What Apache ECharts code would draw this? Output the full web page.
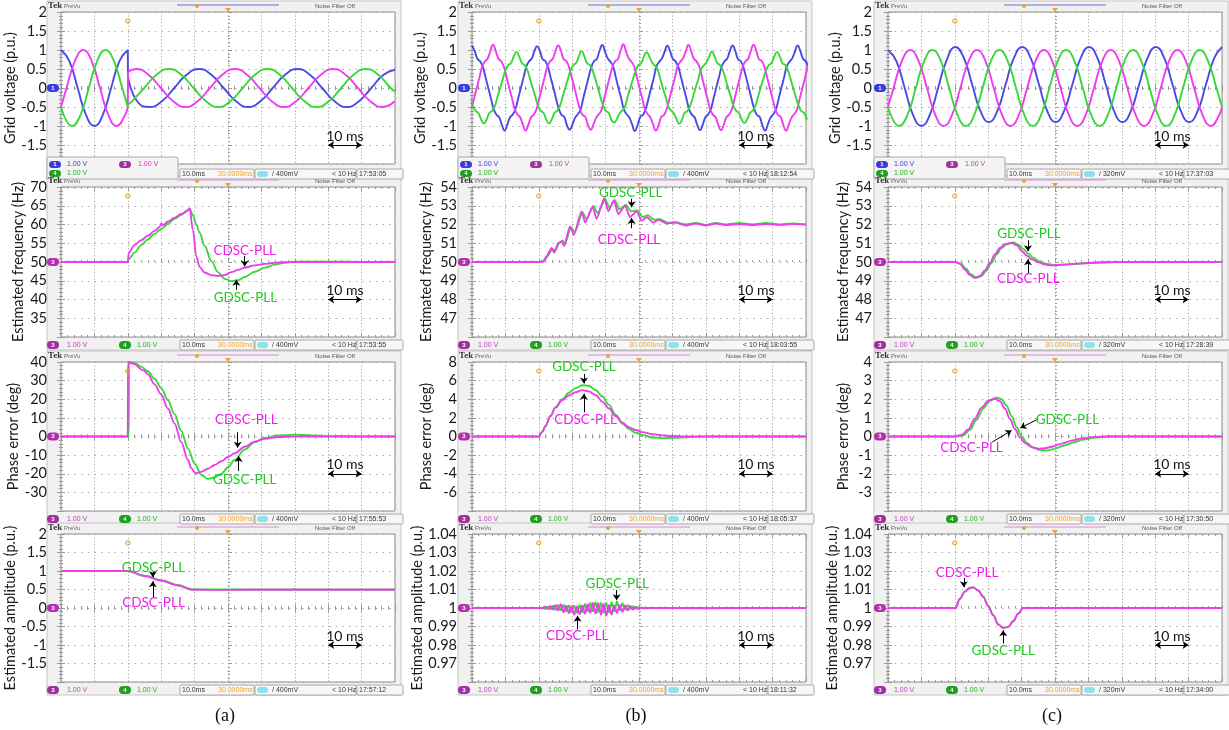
<!DOCTYPE html>
<html><head><meta charset="utf-8">
<script src="https://cdn.jsdelivr.net/npm/echarts@6/dist/echarts.min.js"></script>
<style>html,body{margin:0;padding:0;background:#fff}#c{width:1229px;height:730px}</style>
</head><body><div id="c"></div>
<script>
// ---------------- DATA ----------------
const titles = ['Grid voltage (p.u.)','Estimated frequency (Hz)','Phase error (deg)','Estimated amplitude (p.u.)'];
const captions = ['(a)','(b)','(c)'];
const rangeA = [[-2,2,0.5],[30,70,5],[-40,40,10],[-2,2,0.5]];
const rangeB = [[-2,2,0.5],[46,54,1],[-8,8,2],[0.96,1.04,0.01]];
const rangeC = [[-2,2,0.5],[46,54,1],[-4,4,1],[0.96,1.04,0.01]];
const stamps = [['17:53:05','17:53:55','17:55:53','17:57:12'],['18:12:54','18:03:55','18:05:37','18:11:32'],['17:37:03','17:28:39','17:30:50','17:34:00']];
const trigLevel = ['400mV','400mV','320mV'];

// (a) grid voltage
const aBlueT = [0,2.5,5,7.5,10,12.5,15,17.5,20,20.05,22.8,26.5,30.2,33.9,37.6,41.3,45,48.7,52.4,56,59.7,63.4,67.1,70.8,74.5,78.2,81.9,85.5,89.2,92.9,96.6,100];
const aBlueV = [1,0.71,0,-0.71,-1,-0.71,0,0.71,1,0.3,-0.35,-0.5,-0.35,0,0.35,0.5,0.35,0,-0.35,-0.5,-0.35,0,0.35,0.5,0.35,0,-0.35,-0.5,-0.35,0,0.35,0.48];
const aPinkT = [0,1.67,4.17,6.67,9.17,11.67,14.17,16.67,19.17,20,20.05,22.5,26.2,29.9,33.6,37.25,40.9,44.6,48.3,52,55.7,59.4,63.1,66.75,70.4,74.1,77.8,81.5,85.2,88.9,92.6,96.25,99.9];
const aPinkV = [-0.5,0,0.71,1,0.71,0,-0.71,-1,-0.71,-0.5,0.43,0.5,0.35,0,-0.35,-0.5,-0.35,0,0.35,0.5,0.35,0,-0.35,-0.5,-0.35,0,0.35,0.5,0.35,0,-0.35,-0.5,-0.35];
const aGreenT = [0,3.33,5.83,8.33,10.83,13.33,15.83,18.33,20,20.05,21.25,24.9,28.6,32.3,36,39.7,43.4,47.05,50.7,54.4,58.1,61.8,65.5,69.2,72.9,76.55,80.2,83.9,87.6,91.3,95,98.7,100];
const aGreenV = [-0.5,-1,-0.71,0,0.71,1,0.71,0,-0.5,-0.43,-0.35,0,0.35,0.5,0.35,0,-0.35,-0.5,-0.35,0,0.35,0.5,0.35,0,-0.35,-0.5,-0.35,0,0.35,0.5,0.35,0,-0.09];
// (a) frequency
const aFreqT = [0,20,20.3,22,24,26,28,29.5,30,30.5,32,34,36,38,38.5,39.5,40.5,41.5,43,45,47,49,51,53,55,58,61,64,67,70,80,90,100];
const aFreqCdsc = [50,50,52.5,54.5,55.8,57,58.3,59.3,60.3,59.8,60.8,61.8,62.8,63.8,64.3,58.5,51.5,48.7,47.2,46.5,46.3,46.5,47.3,47.9,48.5,49.1,49.5,49.8,49.95,50,50,50,50];
const aFreqGdsc = [50,50,50.8,52.5,54.5,56,57.5,58.5,58.8,59.1,60.2,61.5,62.6,63.7,64.2,62.5,60,57.8,54.3,50.3,47.3,45.5,44.9,45.1,46,47.4,48.5,49.3,49.8,50.1,50.1,50,50];
// (a) phase error
const aPhT_C = [0,20,20.05,21.7,24.7,26,28,30,32,34,36,38,39,40.2,42,44,46,48,50,52,55,58,61,65,70,80,90,100];
const aPhCdsc = [0,0,40,39,35.5,33.5,28,22.5,15,7,-3,-12.5,-17,-19.7,-19,-17.3,-15.3,-13.3,-11,-9,-5.5,-2.8,-1.2,-0.3,0,0,0,0];
const aPhT_G = [0,20.3,20.35,22,24,26,28,30,32,34,36,38,40,42,44,46,48,50,52,55,58,61,65,70,75,80,90,100];
const aPhGdsc = [0,0,40,39.5,37.5,35,31,26,19.5,12,3,-6.5,-14.5,-20.5,-22.8,-22,-20,-16.5,-12.5,-7,-3,-0.8,0.5,1.0,0.6,0.2,0,0];
// (a) amplitude
const aAmpT = [0,20,25,30,35,39.2,45,55,65,69.5,69.8,70.1,75,85,100];
const aAmpGdsc = [1,1,0.875,0.75,0.62,0.505,0.5,0.5,0.5,0.5,0.5,0.5,0.5,0.5,0.5];
const aAmpCdsc = [1,1,0.865,0.735,0.605,0.495,0.49,0.492,0.492,0.492,0.515,0.492,0.492,0.492,0.492];

// (b) grid voltage (evenly sampled, step in ms, first sample time per phase)
const bStep = 0.8125;
const bBlueT0 = 0, bPinkT0 = -0.2, bGreenT0 = -0.51;
const bBlueV = [1.12,0.97,0.77,0.70,0.56,0.28,0.00,-0.28,-0.56,-0.70,-0.77,-0.97,-1.12,-0.97,-0.77,-0.70,-0.56,-0.28,0.00,0.28,0.56,0.70,0.77,0.97,
1.10,0.98,0.76,0.71,0.55,0.27,0.01,-0.29,-0.55,-0.71,-0.76,-0.98,-1.10,-0.96,-0.78,-0.69,-0.57,-0.27,0.01,0.29,0.55,0.71,0.76,0.98,
1.13,0.96,0.78,0.69,0.57,0.28,-0.01,-0.28,-0.57,-0.69,-0.78,-0.96,-1.13,-0.98,-0.76,-0.71,-0.55,-0.29,0.00,0.27,0.57,0.69,0.78,0.96,
1.11,0.97,0.77,0.70,0.56,0.29,0.00,-0.27,-0.56,-0.70,-0.77,-0.97,-1.11,-0.97,-0.77,-0.70,-0.56,-0.28,0.01,0.28,0.56,0.70,0.77,0.97,
1.12,0.98,0.76,0.71,0.55,0.28,0.00,-0.28,-0.55,-0.71,-0.76,-0.98,-1.12,-0.96,-0.78,-0.69,-0.57,-0.28,0.00,0.28,0.57,0.69,0.78,0.96,
1.12,0.97,0.77,0.70,0.56];
const bPinkV = [-0.56,-0.28,0.00,0.28,0.56,0.70,0.77,0.97,
1.14,0.97,0.77,0.70,0.56,0.28,0.00,-0.28,-0.56,-0.70,-0.77,-0.97,-1.12,-0.97,-0.77,-0.70,-0.56,-0.28,0.00,0.28,0.56,0.70,0.77,0.97,
1.12,0.98,0.76,0.71,0.55,0.27,0.01,-0.29,-0.55,-0.71,-0.76,-0.98,-1.10,-0.96,-0.78,-0.69,-0.57,-0.27,0.01,0.29,0.55,0.71,0.76,0.98,
1.15,0.96,0.78,0.69,0.57,0.28,-0.01,-0.28,-0.57,-0.69,-0.78,-0.96,-1.12,-0.98,-0.76,-0.71,-0.55,-0.29,0.00,0.27,0.57,0.69,0.78,0.96,
1.13,0.97,0.77,0.70,0.56,0.29,0.00,-0.27,-0.56,-0.70,-0.77,-0.97,-1.11,-0.97,-0.77,-0.70,-0.56,-0.28,0.01,0.28,0.56,0.70,0.77,0.97,
1.14,0.98,0.76,0.71,0.55,0.28,0.00,-0.28,-0.55,-0.71,-0.76,-0.98,-1.12,-0.96,-0.78,-0.69,-0.57,-0.28,0.00,0.28,0.57];
const bGreenV = [-0.24,-0.48,-0.60,-0.66,-0.83,-0.93,-0.83,-0.66,-0.60,-0.48,-0.24,0.00,0.24,0.48,0.60,0.66,0.83,
0.95,0.83,0.66,0.60,0.48,0.24,0.00,-0.24,-0.48,-0.60,-0.66,-0.83,-0.93,-0.83,-0.66,-0.60,-0.48,-0.24,0.00,0.24,0.48,0.60,0.66,0.83,
0.97,0.84,0.65,0.61,0.47,0.25,0.01,-0.25,-0.47,-0.61,-0.65,-0.84,-0.91,-0.82,-0.67,-0.59,-0.49,-0.23,0.01,0.25,0.47,0.61,0.65,0.84,
0.94,0.82,0.67,0.59,0.49,0.24,-0.01,-0.24,-0.49,-0.59,-0.67,-0.82,-0.94,-0.84,-0.65,-0.61,-0.47,-0.25,0.00,0.23,0.49,0.59,0.67,0.82,
0.96,0.83,0.66,0.60,0.48,0.25,0.00,-0.23,-0.48,-0.60,-0.66,-0.83,-0.92,-0.83,-0.66,-0.60,-0.48,-0.24,0.01,0.24,0.48,0.60,0.66,0.83,
0.95,0.84,0.65,0.61,0.47,0.24,0.00,-0.25,-0.47,-0.61,-0.65,-0.84];
// (b) frequency
const bFreqT_C = [0,20,21.3,22.3,23.8,24.6,25.8,26.8,27.6,29.3,30.5,32.8,33.9,36.1,37.3,39.6,40.8,42.5,43.8,45.8,47.3,49.3,50.8,52.3,54.3,55.8,58.3,61,64,67,70,73,76,80,84,88,92,96,100];
const bFreqCdsc = [50,50,50.02,50.3,50.75,50.5,51.0,51.1,50.85,51.9,51.45,52.7,52.1,52.95,52.3,53.4,52.7,53.3,52.55,53.0,52.4,52.7,52.2,52.4,52.1,52.25,52.05,52.1,51.95,52.05,51.95,52.05,51.97,52.03,51.97,52.03,51.98,52.02,52.0];
const bFreqT_G = [0,20,21.6,22.6,24.1,24.9,26.1,27.1,27.9,29.6,30.8,33.1,34.2,36.4,37.6,39.9,41.1,42.8,44.1,46.1,47.6,49.6,51.1,52.6,54.6,56.1,58.6,61,64,67,70,73,76,80,84,88,92,96,100];
const bFreqGdsc = [50,50,50.05,50.3,50.7,50.6,51.0,51.15,51.0,51.85,51.6,52.65,52.3,53.0,52.6,53.35,52.9,53.3,52.8,53.05,52.7,52.75,52.4,52.5,52.25,52.3,52.1,52.12,52.0,52.08,51.98,52.08,52.0,52.08,52.0,52.08,52.0,52.06,52.0];
// (b) phase error
const bPhT = [0,20,21,22,23.5,25,27,29,31,33,35,37,39,41,43,45,47,49,51,54,57,60,64,70,80,90,100];
const bPhCdsc = [0,0,0.5,1.15,2.2,3.1,3.9,4.4,4.75,4.98,4.85,4.45,3.75,3.0,2.2,1.5,1.0,0.7,0.47,0.25,0.12,0.05,0,0,0,0,0];
const bPhGdsc = [0,0,0.45,1.1,2.2,3.15,4.0,4.7,5.2,5.5,5.45,5.0,4.3,3.4,2.35,1.4,0.8,0.4,0.15,-0.1,-0.18,-0.15,-0.08,0,0,0,0];
// (b) amplitude
const bAmpT = [0,20,21,21.8,22.6,23.4,24.2,25,25.8,26.6,27.4,28.2,29,29.8,30.6,31.4,32.2,33,33.8,34.6,35.4,36.2,37,37.8,38.6,39.4,40.2,41,41.8,42.6,43.4,44.2,45,45.8,46.6,47.4,48.2,49,49.8,50.6,51.5,53,60,70,80,90,100];
const bAmpCdsc = [1,1,1,1.0008,0.9994,1.0012,0.999,1.0018,0.9985,1.0022,0.9975,1.0015,0.997,1.0012,0.9962,1.001,0.9963,1.0015,0.9968,1.0022,0.9972,1.003,0.9968,1.0028,0.9962,1.0024,0.9958,1.0018,0.9962,1.0016,0.9972,1.0018,0.9978,1.0016,0.9985,1.0012,0.999,1.0007,0.9994,1.0003,0.9998,1,1,0.9999,1,1,1];
const bAmpGdsc = [1,1,1,0.9995,1.0008,0.9992,1.0013,0.9988,1.0018,0.9984,1.0018,0.998,1.0016,0.9975,1.0014,0.9972,1.0018,0.9975,1.0024,0.998,1.003,0.998,1.0032,0.9976,1.003,0.9972,1.0028,0.9974,1.0032,0.998,1.0036,0.9985,1.0028,0.999,1.0018,0.9993,1.001,0.9996,1.0004,0.9999,1,1,1,1,1,1,1];

// (c) grid voltage
const cBlueT = [0,2.5,5,7.5,10,12.5,15,17.5,20.2,22.7,25.2,27.7,30.2,32.7,35.2,37.7,40.2,42.7,45.2,47.7,50.2,52.7,55.2,57.7,60.2,62.7,65.2,67.7,70.2,72.7,75.2,77.7,80.2,82.7,85.2,87.7,90.2,92.7,95.2,97.7,100];
const cBlueV = [1,0.71,0,-0.71,-1,-0.71,0,0.72,1.08,0.79,0.09,-0.61,-0.9,-0.61,0.09,0.79,1.08,0.79,0.09,-0.61,-0.9,-0.61,0.09,0.79,1.08,0.79,0.09,-0.61,-0.9,-0.61,0.09,0.79,1.08,0.79,0.09,-0.61,-0.9,-0.61,0.09,0.79,1.08];
const cPinkT = [0,1.67,4.17,6.67,9.17,11.67,14.17,16.67,19.17,21.67,24.17,26.67,29.17,31.67,34.17,36.67,39.17,41.67,44.17,46.67,49.17,51.67,54.17,56.67,59.17,61.67,64.17,66.67,69.17,71.67,74.17,76.67,79.17,81.67,84.17,86.67,89.17,91.67,94.17,96.67,99.17,100];
const cPinkV = [-0.5,0,0.71,1,0.71,0,-0.71,-1,-0.71,0,0.71,1,0.71,0,-0.71,-1,-0.71,0,0.71,1,0.71,0,-0.71,-1,-0.71,0,0.71,1,0.71,0,-0.71,-1,-0.71,0,0.71,1,0.71,0,-0.71,-1,-0.71,-0.5];
const cGreenT = [0,3.33,5.83,8.33,10.83,13.33,15.83,18.33,20.83,23.33,25.83,28.33,30.83,33.33,35.83,38.33,40.83,43.33,45.83,48.33,50.83,53.33,55.83,58.33,60.83,63.33,65.83,68.33,70.83,73.33,75.83,78.33,80.83,83.33,85.83,88.33,90.83,93.33,95.83,98.33,100];
const cGreenV = [-0.5,-1,-0.71,0,0.71,1,0.71,0,-0.71,-1,-0.71,0,0.71,1,0.71,0,-0.71,-1,-0.71,0,0.71,1,0.71,0,-0.71,-1,-0.71,0,0.71,1,0.71,0,-0.71,-1,-0.71,0,0.71,1,0.71,0,-0.5];
// (c) frequency
const cFreqT_C = [0,20,21.5,23,24.5,26,27.5,29,30.5,32,33.5,35,36.8,38.5,40,41.5,43,45,47,49,52,56,60,65,70,80,90,100];
const cFreqCdsc = [50,50,49.9,49.6,49.3,49.15,49.25,49.55,49.95,50.4,50.75,50.95,51.02,50.9,50.6,50.35,50.15,49.98,49.86,49.82,49.85,49.9,49.95,49.99,50,50,50,50];
const cFreqT_G = [0,20.3,21.8,23.3,24.8,26.5,28,29.5,31,32.5,34,35.5,37.5,39,40.5,42,43.5,45.5,47.5,50,53,57,61,66,70,80,90,100];
const cFreqGdsc = [50,50,49.92,49.65,49.35,49.17,49.25,49.55,49.95,50.4,50.75,50.95,51.04,50.92,50.7,50.45,50.22,50.02,49.9,49.84,49.86,49.91,49.95,49.99,50,50,50,50];
// (c) phase error
const cPhT_C = [0,20,22,24,26,28,30,32,33.5,35,36.5,38,39.5,41,43,45,47,49,52,55,58,62,66,80,100];
const cPhCdsc = [0,0,0.08,0.38,0.95,1.55,1.92,2.03,1.9,1.5,0.95,0.4,-0.05,-0.35,-0.57,-0.65,-0.63,-0.55,-0.38,-0.22,-0.1,-0.02,0,0,0];
const cPhT_G = [0,20.5,22.5,24.5,26.5,28.5,30.5,32.5,34,35.5,37,38.5,40,41.5,43.5,45.5,47.5,49.5,52.5,55.5,58.5,62,66,80,100];
const cPhGdsc = [0,0,0.06,0.35,0.9,1.5,1.92,2.1,2.0,1.65,1.1,0.5,0.02,-0.33,-0.6,-0.73,-0.75,-0.68,-0.5,-0.32,-0.17,-0.06,0,0,0];
// (c) amplitude
const cAmpT = [0,20.2,21.5,23,24.5,25.5,27,28.5,30,31.5,33,34.5,36,37.5,39,40.4,50,100];
const cAmpCdsc = [1,1,1.005,1.009,1.011,1.0112,1.0095,1.006,1.001,0.996,0.991,0.9892,0.9898,0.993,0.997,1,1,1];
const cAmpGdsc = [1,1,1.0048,1.0088,1.0108,1.011,1.0096,1.0062,1.0012,0.9962,0.9912,0.9893,0.9897,0.9928,0.9968,1,1,1];

// ---------------- STYLE / LAYOUT ----------------
const FONT = 'Lato';
const C_BLUE = '#4a4ae6', C_MAG = '#ee3cee', C_GRN = '#38d838';
const T_MAG = '#ee1eee', T_GRN = '#1ecb1e';
const colLeft = [61, 472, 888], colW = 334;
const rowTop = [12, 187, 362, 534], rowH = [152, 150, 149, 148];
const nameGapC = [31, 38, 37], labelMarginC = [14, 15, 16];

const zipTV = (T, V) => T.map((t, i) => [t, V[i]]);
const sampled = (t0, step, V) => V.map((v, i) => [+(t0 + i * step).toFixed(4), v]);
const L = (col, d, opt) => Object.assign({col, d}, opt || {});
const CD = 'CDSC-PLL', GD = 'GDSC-PLL';
const SINE = {sm:0.5, mono:null};

const panelDefs = [
  {c:0,r:0,y:rangeA[0],scale:-1.5,lines:[L(C_BLUE,zipTV(aBlueT,aBlueV),{sm:0.5,mono:null,jump:20}),L(C_MAG,zipTV(aPinkT,aPinkV),{sm:0.5,mono:null,jump:20}),L(C_GRN,zipTV(aGreenT,aGreenV),{sm:0.5,mono:null,jump:20})],notes:[]},
  {c:0,r:1,y:rangeA[1],scale:40,lines:[L(C_GRN,zipTV(aFreqT,aFreqGdsc)),L(C_MAG,zipTV(aFreqT,aFreqCdsc))],
    notes:[{t:CD,col:T_MAG,at:[55,52.9],ar:[[55,51.6],[55,48.8]]},{t:GD,col:T_GRN,at:[55.2,40.6],ar:[[52.5,42.6],[52.5,45.3]]}]},
  {c:0,r:2,y:rangeA[2],scale:-20,lines:[L(C_GRN,zipTV(aPhT_G,aPhGdsc)),L(C_MAG,zipTV(aPhT_C,aPhCdsc))],
    notes:[{t:CD,col:T_MAG,at:[55.5,9.1],ar:[[52.9,2.3],[52.9,-6]]},{t:GD,col:T_GRN,at:[55,-23.3],ar:[[53.2,-18.5],[53.2,-10.5]]}]},
  {c:0,r:3,y:rangeA[3],scale:-1,lines:[L(C_GRN,zipTV(aAmpT,aAmpGdsc)),L(C_MAG,zipTV(aAmpT,aAmpCdsc))],
    notes:[{t:GD,col:T_GRN,at:[27.7,1.09],ar:[[27.5,0.97],[27.5,0.83]]},{t:CD,col:T_MAG,at:[27.7,0.145],ar:[[27.5,0.29],[27.5,0.72]]}]},
  {c:1,r:0,y:rangeB[0],scale:-1.5,lines:[L(C_BLUE,sampled(bBlueT0,bStep,bBlueV),SINE),L(C_MAG,sampled(bPinkT0,bStep,bPinkV),SINE),L(C_GRN,sampled(bGreenT0,bStep,bGreenV),SINE)],notes:[]},
  {c:1,r:1,y:rangeB[1],scale:48,lines:[L(C_GRN,zipTV(bFreqT_G,bFreqGdsc),{sm:0.2}),L(C_MAG,zipTV(bFreqT_C,bFreqCdsc),{sm:0.2})],
    notes:[{t:GD,col:T_GRN,at:[47.5,53.72],ar:[[47.8,53.38],[47.8,52.92]]},{t:CD,col:T_MAG,at:[47,51.2],ar:[[47.8,51.8],[47.8,52.35]]}]},
  {c:1,r:2,y:rangeB[2],scale:-4,lines:[L(C_GRN,zipTV(bPhT,bPhGdsc)),L(C_MAG,zipTV(bPhT,bPhCdsc))],
    notes:[{t:GD,col:T_GRN,at:[33.5,7.5],ar:[[33.5,6.7],[33.5,5.7]]},{t:CD,col:T_MAG,at:[34,1.8],ar:[[33.5,2.6],[33.5,4.6]]}]},
  {c:1,r:3,y:rangeB[3],scale:0.98,lines:[L(C_GRN,zipTV(bAmpT,bAmpGdsc),{sm:false}),L(C_MAG,zipTV(bAmpT,bAmpCdsc),{sm:false})],
    notes:[{t:GD,col:T_GRN,at:[43.5,1.0132],ar:[[43.3,1.0097],[43.3,1.0042]]},{t:CD,col:T_MAG,at:[31.5,0.985],ar:[[31.6,0.9885],[31.6,0.9958]]}]},
  {c:2,r:0,y:rangeC[0],scale:-1.5,lines:[L(C_BLUE,zipTV(cBlueT,cBlueV),SINE),L(C_MAG,zipTV(cPinkT,cPinkV),SINE),L(C_GRN,zipTV(cGreenT,cGreenV),SINE)],notes:[]},
  {c:2,r:1,y:rangeC[1],scale:48,lines:[L(C_GRN,zipTV(cFreqT_G,cFreqGdsc)),L(C_MAG,zipTV(cFreqT_C,cFreqCdsc))],
    notes:[{t:GD,col:T_GRN,at:[42.2,51.5],ar:[[41.9,51.16],[41.9,50.58]]},{t:CD,col:T_MAG,at:[42,49.1],ar:[[41.9,49.4],[41.9,50.15]]}]},
  {c:2,r:2,y:rangeC[2],scale:-2,lines:[L(C_GRN,zipTV(cPhT_G,cPhGdsc)),L(C_MAG,zipTV(cPhT_C,cPhCdsc))],
    notes:[{t:GD,col:T_GRN,at:[53.7,0.88],ar:[[45,0.94],[39.6,0.46]]},{t:CD,col:T_MAG,at:[25,-0.6],ar:[[31.2,-0.3],[37,0.32]]}]},
  {c:2,r:3,y:rangeC[3],scale:0.98,lines:[L(C_GRN,zipTV(cAmpT,cAmpGdsc)),L(C_MAG,zipTV(cAmpT,cAmpCdsc))],
    notes:[{t:CD,col:T_MAG,at:[23.7,1.019],ar:[[22.7,1.0162],[22.7,1.0112]]},{t:GD,col:T_GRN,at:[34.5,0.9772],ar:[[34.5,0.9808],[34.5,0.988]]}]}
];

// ---------------- BUILD ----------------
const fmt = v => String(parseFloat(Number(v).toFixed(2)));
const grid = [], xAxis = [], yAxis = [], series = [], graphic = [];
const tickLS = {color:'#9a9a9a', width:1};
const ORANGE = '#f0a030';

function txt(x, y, s, fill, font, align) {
  return {type:'text', x, y, z:20, silent:true,
    style:{text:s, fill, font, align:align||'left', textAlign:align||'left', verticalAlign:'middle', textVerticalAlign:'middle'}};
}
function rect(x, y, w, h, fill, stroke, r, z) {
  return {type:'rect', z:(z===undefined?20:z), silent:true, shape:{x, y, width:w, height:h, r:r||0}, style:{fill, stroke:stroke||null, lineWidth:1}};
}
function pill(x, y, w, h, fill, label) {
  return [rect(x, y, w, h, fill, null, h/2), txt(x+w/2, y+h/2, label, '#fff', 'bold 6px "Liberation Sans"', 'center')];
}

function chrome(p) {
  const gl = colLeft[p.c], gt = rowTop[p.r], gh = rowH[p.r], gw = colW, gb = gt + gh;
  const out = [];
  out.push(rect(gl-14, gt-11, gw+20, gh + (p.r===0 ? 27 : 24), '#f1f1f1', '#c4c4c4', 0, -5));
  out.push(txt(gl-13, gt-6, 'Tek', '#333', 'bold 9px "Liberation Serif"'));
  out.push(txt(gl+3, gt-6, 'PreVu', '#666', '6px "Liberation Sans"'));
  out.push({type:'line', z:20, silent:true, shape:{x1:gl+116, y1:gt-7, x2:gl+218, y2:gt-7}, style:{stroke:p.r===0?'#6a6ae0':'#d88ad8', lineWidth:1.2}});
  out.push({type:'circle', z:21, silent:true, shape:{cx:gl+136, cy:gt-6, r:2}, style:{fill:ORANGE}});
  out.push({type:'polygon', z:21, silent:true, shape:{points:[[gl+gw/2-3,gt-4],[gl+gw/2+3,gt-4],[gl+gw/2,gt]]}, style:{fill:ORANGE}});
  out.push(txt(gl+254, gt-6, 'Noise Filter Off', '#555', '6px "Liberation Sans"'));
  out.push({type:'circle', z:21, silent:true, shape:{cx:gl+gw*0.2, cy:gt+9, r:2.2}, style:{fill:'rgba(240,160,48,0.25)', stroke:ORANGE, lineWidth:1}});
  const chCol = p.r===0 ? '#3a3ae0' : '#b030b0';
  out.push(...pill(gl-14, gt+gh/2-4, 12, 8, chCol, p.r===0 ? '1' : '3'));
  const f7 = '7px "Liberation Sans"';
  if (p.r === 0) {
    out.push(rect(gl-14, gb-7, 131, 22, '#f4f4f4', '#a8a8a8', 2, 19));
    out.push(...pill(gl-12, gb-3, 12, 7, '#3a3ae0', '1'));
    out.push(txt(gl+6, gb+0.5, '1.00 V', '#3a3ae0', f7));
    out.push(...pill(gl+58, gb-3, 12, 7, '#a030a0', '3'));
    out.push(txt(gl+77, gb+0.5, '1.00 V', '#c040c0', f7));
    out.push(...pill(gl-12, gb+6, 12, 7, '#20a020', '4'));
    out.push(txt(gl+6, gb+9.5, '1.00 V', '#20b020', f7));
  } else {
    out.push(...pill(gl-14, gb+4, 12, 8, '#a030a0', '3'));
    out.push(txt(gl+6, gb+8, '1.00 V', '#c040c0', f7));
    out.push(...pill(gl+58, gb+4, 12, 8, '#20a020', '4'));
    out.push(txt(gl+76, gb+8, '1.00 V', '#20b020', f7));
  }
  const sy = p.r===0 ? gb+5 : gb+3;
  out.push(rect(gl+119, sy, 74, 10, '#f7f7f7', '#a8a8a8', 1, 19));
  out.push(txt(gl+121, sy+5, '10.0ms', '#333', f7));
  out.push(txt(gl+157, sy+5, '30.0000ms', ORANGE, f7));
  out.push(rect(gl+194, sy, 101, 10, '#f7f7f7', '#a8a8a8', 1, 19));
  out.push(rect(gl+196, sy+2, 11, 6, '#8ee0f0', null, 3, 20));
  out.push(txt(gl+211, sy+5, '/ ' + trigLevel[p.c], '#333', f7));
  out.push(txt(gl+271, sy+5, '< 10 Hz', '#333', f7));
  out.push(rect(gl+296, sy, 46, 10, '#f7f7f7', '#a8a8a8', 1, 19));
  out.push(txt(gl+298, sy+5, stamps[p.c][p.r], '#333', f7));
  return out;
}

function lineSeries(xb, yb, col, data, sm, mono, z) {
  return {type:'line', xAxisIndex:xb, yAxisIndex:yb, data, showSymbol:false, symbol:'none',
    smooth:sm, smoothMonotone:mono || undefined, clip:true, animation:false, silent:true, z:z||3,
    lineStyle:{color:col, width:1.9}, itemStyle:{color:col}};
}

panelDefs.forEach((p, i) => {
  const gl = colLeft[p.c], gt = rowTop[p.r], gh = rowH[p.r], gw = colW;
  grid.push({left:gl, top:gt, width:gw, height:gh, show:true, backgroundColor:'#ffffff', borderColor:'#8e8e8e', borderWidth:1, outerBoundsMode:'none', containLabel:false});
  const xb = xAxis.length, yb = yAxis.length;
  const tickOpt = {show:true, inside:true, length:4, lineStyle:tickLS};
  const minorOpt = {show:true, splitNumber:5, length:2, lineStyle:tickLS};
  const xBase = {gridIndex:i, type:'value', min:0, max:100, interval:10, axisLine:{show:false}, axisLabel:{show:false}, axisTick:tickOpt, minorTick:minorOpt};
  xAxis.push(Object.assign({}, xBase, {position:'bottom', splitLine:{show:true, lineStyle:{color:'#a9a9a9', width:1, type:[1.2,2.2]}}}));
  xAxis.push(Object.assign({}, xBase, {position:'top', splitLine:{show:false}}));
  xAxis.push(Object.assign({}, xBase, {position:'bottom', offset:-gh/2, splitLine:{show:false}, axisTick:{show:true, inside:true, length:3, lineStyle:tickLS}, minorTick:{show:true, splitNumber:5, length:2, lineStyle:tickLS}}));
  const yBase = {gridIndex:i, type:'value', min:p.y[0], max:p.y[1], interval:p.y[2], axisLine:{show:false}, axisTick:tickOpt, minorTick:minorOpt};
  yAxis.push(Object.assign({}, yBase, {position:'left', name:titles[p.r], nameLocation:'middle', nameGap:nameGapC[p.c], nameRotate:90,
    nameTextStyle:{fontFamily:FONT, fontSize:14.5, color:'#1a1a1a'},
    axisLabel:{show:true, margin:labelMarginC[p.c], showMinLabel:false, showMaxLabel:true, fontFamily:FONT, fontSize:14.5, color:'#1a1a1a', formatter:fmt},
    splitLine:{show:true, lineStyle:{color:'#a9a9a9', width:1, type:[1.5,5.2]}}}));
  yAxis.push(Object.assign({}, yBase, {position:'right', axisLabel:{show:false}, splitLine:{show:false}}));
  yAxis.push(Object.assign({}, yBase, {position:'left', offset:-gw/2, axisLabel:{show:false}, splitLine:{show:false}}));

  p.lines.forEach((ln, k) => {
    const sm = (ln.sm === undefined ? 0.35 : ln.sm);
    const mono = (ln.mono === undefined ? 'x' : ln.mono);
    let s;
    if (ln.jump !== undefined) {
      // split at the step: smooth before/after, straight vertical connector
      const pre = ln.d.filter(d => d[0] <= ln.jump), post = ln.d.filter(d => d[0] > ln.jump);
      series.push(lineSeries(xb, yb, ln.col, pre, sm, mono));
      series.push(lineSeries(xb, yb, ln.col, [pre[pre.length-1], post[0]], false, null));
      s = lineSeries(xb, yb, ln.col, post, sm, mono);
    } else {
      s = lineSeries(xb, yb, ln.col, ln.d, sm, mono);
    }
    if (k === p.lines.length - 1) {
      const ml = [[{coord:[80, p.scale], symbol:'arrow'}, {coord:[90, p.scale], symbol:'arrow'}]];
      p.notes.forEach(n => ml.push([{coord:n.ar[0], symbol:'none'}, {coord:n.ar[1], symbol:'arrow'}]));
      s.markLine = {silent:true, animation:false, symbolSize:6, label:{show:false}, lineStyle:{color:'#000', width:1, type:'solid'}, emphasis:{disabled:true}, data:ml};
      const mp = [{coord:[85, p.scale], label:{formatter:'10 ms', color:'#111', offset:[0,-9], fontSize:14}}];
      p.notes.forEach(n => mp.push({coord:n.at, label:{formatter:n.t, color:n.col, fontSize:13.5}}));
      s.markPoint = {silent:true, animation:false, symbol:'circle', symbolSize:0, itemStyle:{color:'transparent'},
        label:{show:true, position:'inside', fontFamily:FONT}, data:mp};
    }
    series.push(s);
  });
  graphic.push(...chrome(p));
});

captions.forEach((cap, c) => {
  graphic.push({type:'text', x:colLeft[c] + colW/2 - 3, y:716, z:20, silent:true,
    style:{text:cap, fill:'#111', font:'18px "Liberation Serif"', align:'center', textAlign:'center', verticalAlign:'middle', textVerticalAlign:'middle'}});
});

const chart = echarts.init(document.getElementById('c'), null, {renderer:'canvas'});
chart.setOption({animation:false, backgroundColor:'#ffffff', grid, xAxis, yAxis, series, graphic});
</script></body></html>
